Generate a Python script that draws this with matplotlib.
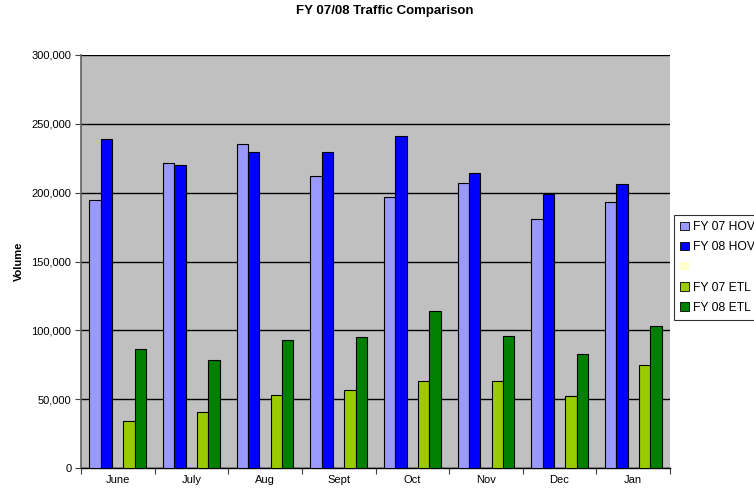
import numpy as np
import matplotlib.pyplot as plt
from matplotlib.patches import Patch
from matplotlib.ticker import FuncFormatter, FixedLocator

plt.rcParams['font.family'] = ['Liberation Sans', 'DejaVu Sans']

# monthly traffic volumes
months = ['June', 'July', 'Aug', 'Sept', 'Oct', 'Nov', 'Dec', 'Jan']
fy07_hov = [195000, 221700, 235000, 211800, 197100, 207200, 181000, 193000]
fy08_hov = [238800, 219800, 229900, 229900, 241500, 214200, 199000, 206300]
fy07_etl = [34300, 40800, 52900, 56500, 63500, 63500, 52200, 74600]
fy08_etl = [86400, 78500, 93200, 95100, 114000, 95900, 83100, 103100]

series_names = ['FY 07 HOV', 'FY 08 HOV', '', 'FY 07 ETL', 'FY 08 ETL']
series_vals = [fy07_hov, fy08_hov, None, fy07_etl, fy08_etl]
colors = ['#9999FF', '#0000FF', '#FFFFCC', '#99CC00', '#008000']

W, H = 754, 490
fig = plt.figure(figsize=(W / 100, H / 100), dpi=100)
ax = fig.add_axes([81 / W, 22 / H, (670 - 81) / W, (468 - 55) / H])
ax.set_facecolor('#C0C0C0')

x = np.arange(len(months))
w = 1 / 6.5
for k, (vals, c) in enumerate(zip(series_vals, colors)):
    if vals is None:
        continue  # empty series keeps its slot
    ax.bar(x + (k - 2) * w, vals, width=w, color=c, edgecolor='black',
           linewidth=0.8, zorder=3)

ax.set_xlim(-0.5, len(months) - 0.5)
ax.set_ylim(0, 300000)
ax.set_yticks(np.arange(0, 300001, 50000))
ax.yaxis.set_major_formatter(FuncFormatter(lambda v, p: f'{int(v):,}'))
ax.yaxis.grid(True, color='black', linewidth=1)
ax.set_axisbelow(True)

ax.set_xticks(x)
ax.set_xticklabels(months)
ax.xaxis.set_minor_locator(FixedLocator(np.arange(-0.5, len(months), 1)))
ax.tick_params(axis='x', which='major', length=0, pad=5, labelsize=8)
ax.tick_params(axis='x', which='minor', length=4, width=0.8, color='#404040')
ax.tick_params(axis='y', length=4, width=0.8, color='#404040', labelsize=8, pad=3)

for s in ['top', 'right']:
    ax.spines[s].set_visible(False)
ax.spines['left'].set_color('#606060')
ax.spines['left'].set_linewidth(1.2)
ax.spines['bottom'].set_color('black')
ax.spines['bottom'].set_linewidth(1)

ax.set_ylabel('Volume', fontsize=8, fontweight='bold')
ax.yaxis.set_label_coords((24 - 81) / (670 - 81), 0.5)
fig.text(385 / W, 1 - 11 / H, 'FY 07/08 Traffic Comparison', ha='center',
         va='center', fontsize=9.5, fontweight='bold')

handles = []
for name, c in zip(series_names, colors):
    if name:
        handles.append(Patch(facecolor=c, edgecolor='black', linewidth=0.6))
    else:
        handles.append(Patch(facecolor=c, edgecolor='none'))
leg = fig.legend(handles, series_names, loc='upper left',
                 bbox_to_anchor=(674 / W, 1 - 215 / H), fontsize=8.7,
                 frameon=True, fancybox=False, edgecolor='black',
                 handlelength=0.7, handleheight=0.7, handletextpad=0.4,
                 labelspacing=0.68, borderaxespad=0, borderpad=0.5)
leg.get_frame().set_linewidth(0.8)

fig.savefig('out.png', dpi=100)
